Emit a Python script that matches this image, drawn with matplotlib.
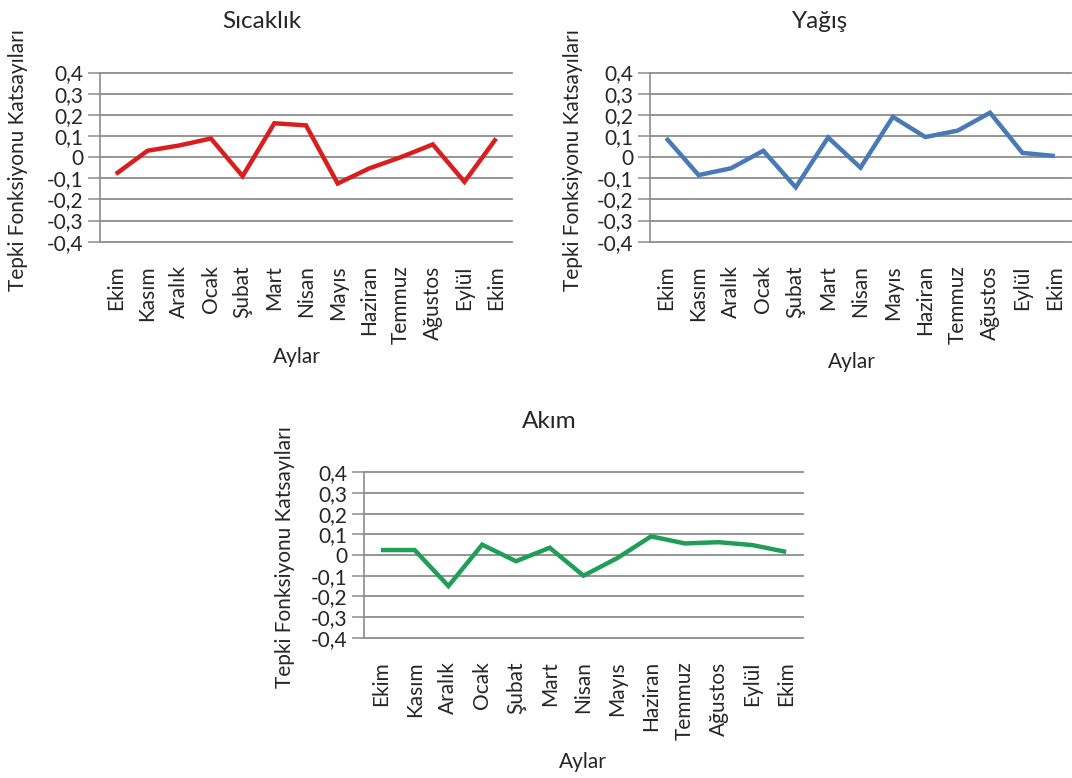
import matplotlib
matplotlib.use("Agg")
import matplotlib.pyplot as plt
from matplotlib.ticker import FixedLocator, FuncFormatter

plt.rcParams['font.family'] = ['Lato', 'DejaVu Sans']

months = ["Ekim", "Kasım", "Aralık", "Ocak", "Şubat", "Mart", "Nisan",
          "Mayıs", "Haziran", "Temmuz", "Ağustos", "Eylül", "Ekim"]

sicaklik = [-0.08, 0.03, 0.055, 0.088, -0.09, 0.16, 0.15,
            -0.125, -0.053, 0.0, 0.06, -0.117, 0.088]
yagis = [0.09, -0.085, -0.053, 0.03, -0.143, 0.093, -0.05,
         0.19, 0.095, 0.125, 0.21, 0.02, 0.005]
akim = [0.024, 0.024, -0.15, 0.05, -0.03, 0.035, -0.10,
        -0.015, 0.09, 0.056, 0.062, 0.048, 0.015]

y_ticks = [-0.4, -0.3, -0.2, -0.1, 0.0, 0.1, 0.2, 0.3, 0.4]

titles = ["Sıcaklık", "Yağış", "Akım"]
ylabel = "Tepki Fonksiyonu Katsayıları"
xlabel = "Aylar"

W, H = 1072, 778
fig = plt.figure(figsize=(W / 100, H / 100), dpi=100)
fig.patch.set_facecolor("white")

GRID = "#8c8c8c"
TEXT = "#262626"


def px_axes(x0, y0, x1, y1):
    return fig.add_axes([x0 / W, 1 - y1 / H, (x1 - x0) / W, (y1 - y0) / H])


def fmt(v, _pos):
    if abs(v) < 1e-9:
        return "0"
    return f"{v:.1f}".replace(".", ",")


def draw_panel(box, values, color, title, title_xy, xlabel_xy, ylabel_xy):
    ax = px_axes(*box)
    x = list(range(len(values)))
    ax.plot(x, values, color=color, lw=3.2, solid_joinstyle="miter",
            solid_capstyle="butt", zorder=3)
    ax.set_xlim(-0.5, len(values) - 0.5)
    ax.set_ylim(-0.4, 0.4)
    ax.yaxis.set_major_locator(FixedLocator(y_ticks))
    ax.yaxis.set_major_formatter(FuncFormatter(fmt))
    ax.set_xticks(x)
    ax.set_xticklabels(months, rotation=90, va="top", ha="center",
                       fontsize=15, color=TEXT)
    ax.tick_params(axis="x", length=0, pad=17)
    ax.tick_params(axis="y", length=9, width=1.1, color=GRID, pad=3,
                   labelsize=15, labelcolor=TEXT)
    for s in ("top", "right", "bottom"):
        ax.spines[s].set_visible(False)
    ax.spines["left"].set_color(GRID)
    ax.spines["left"].set_linewidth(1.2)
    for yv in y_ticks:
        ax.axhline(yv, color=GRID, lw=1.3, zorder=1, clip_on=False)
    fig.text(title_xy[0] / W, 1 - title_xy[1] / H, title, ha="center",
             va="center", fontsize=17.5, color=TEXT)
    fig.text(xlabel_xy[0] / W, 1 - xlabel_xy[1] / H, xlabel, ha="center",
             va="center", fontsize=15, color=TEXT)
    fig.text(ylabel_xy[0] / W, 1 - ylabel_xy[1] / H, ylabel, ha="center",
             va="center", rotation=90, fontsize=15, color=TEXT)
    return ax


draw_panel((100, 72.5, 512, 241.7), sicaklik, "#d91e1e", titles[0],
           (262, 22), (297, 357), (18, 160))
draw_panel((650, 72.5, 1071, 241.7), yagis, "#4a7ab5", titles[1],
           (820, 22), (852, 362), (573, 160))
draw_panel((364, 472.3, 803, 637.7), akim, "#1f9e55", titles[2],
           (549, 422), (583, 762), (285, 557))

fig.savefig("out.png", dpi=100, facecolor="white")
